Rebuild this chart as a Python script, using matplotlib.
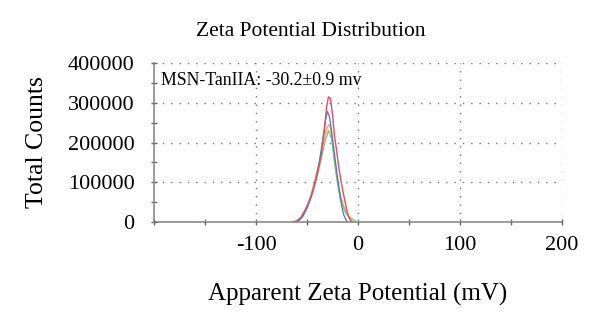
import matplotlib.pyplot as plt
import numpy as np
from matplotlib.ticker import MultipleLocator, FixedLocator

# Zeta potential distribution, four repeat runs
red_x = [-64, -60, -56, -52, -48, -44, -40, -36, -33, -31, -29, -27, -25, -23, -21, -19, -17, -15, -13, -11, -9, -7, -5]
red_y = [0, 3000, 12000, 30000, 52000, 80000, 120000, 170000, 230000, 285000, 315000, 310000, 270000, 215000,
         180000, 140000, 108000, 80000, 55000, 30000, 12000, 3000, 0]

blue_x = [-62, -58, -54, -50, -46, -42, -38, -35, -32, -30, -28, -26, -24, -22, -20, -18, -16, -14, -12, -10]
blue_y = [0, 4000, 15000, 35000, 62000, 100000, 150000, 200000, 255000, 278000, 265000, 230000, 190000, 150000,
          110000, 75000, 40000, 18000, 6000, 0]

green_x = [-60, -56, -52, -48, -44, -40, -36, -32, -29, -26, -24, -22, -20, -18, -15, -12, -8, -4, 0]
green_y = [0, 8000, 25000, 50000, 80000, 115000, 160000, 205000, 230000, 210000, 170000, 130000, 95000, 65000,
           40000, 22000, 12000, 5000, 0]

orange_x = [-62, -56, -50, -46, -42, -38, -34, -30, -28, -26, -24, -22, -20, -17, -14, -11, -8, -5]
orange_y = [0, 10000, 35000, 70000, 110000, 150000, 200000, 240000, 245000, 220000, 175000, 135000, 100000,
            65000, 40000, 20000, 8000, 0]

baseline_x = [-150, 150]
baseline_y = [0, 0]

x_ticks = [-100, 0, 100, 200]
x_labels = ['-100', '0', '100', '200']
y_ticks = [0, 100000, 200000, 300000, 400000]
y_labels = ['0', '100000', '200000', '300000', '400000']

plt.rcParams['font.family'] = ['Liberation Serif', 'DejaVu Serif']

fig = plt.figure(figsize=(6.0, 3.29), dpi=100)
ax = fig.add_axes([0.2567, 0.325, 0.68, 0.4835])

ax.plot([-200, 200], [0, 0], color='#8a8a8a', lw=1.2, zorder=1, clip_on=False)
ax.plot([-56, -4], [0, 0], color='#6e6e6e', lw=1.2, zorder=2)
ax.plot(baseline_x, baseline_y, color='#86a9d8', lw=1.2, zorder=2)
ax.plot(orange_x, orange_y, color='#f0a35a', lw=0.9, zorder=3)
ax.plot(green_x, green_y, color='#7cc47a', lw=0.9, zorder=4)
ax.plot(blue_x, blue_y, color='#4a78c8', lw=0.9, zorder=5)
ax.plot(red_x, red_y, color='#e0505a', lw=1.0, zorder=6)

ax.set_xlim(-200, 200)
ax.set_ylim(0, 400000)
ax.xaxis.set_major_locator(FixedLocator(x_ticks))
ax.xaxis.set_minor_locator(MultipleLocator(50))
ax.yaxis.set_major_locator(FixedLocator(y_ticks))
ax.yaxis.set_minor_locator(MultipleLocator(50000))
ax.set_xticklabels(x_labels)
ax.set_yticklabels(y_labels)

ax.grid(True, which='major', color='#777777', linestyle=(0, (1, 5)), lw=1.0)
for side in ['top', 'right', 'bottom']:
    ax.spines[side].set_visible(False)
ax.spines['left'].set_color('#8a8a8a')
ax.spines['left'].set_linewidth(1.2)

ax.tick_params(axis='both', which='both', direction='inout', color='#666666', labelsize=16, width=1)
ax.tick_params(axis='both', which='major', length=4)
ax.tick_params(axis='both', which='minor', length=4)
ax.tick_params(axis='x', pad=8)
ax.tick_params(axis='y', pad=12)

fig.text(311 / 600, 1 - 32 / 329, 'Zeta Potential Distribution', fontsize=15.5, ha='center', va='center')
ax.set_xlabel('Apparent Zeta Potential (mV)', fontsize=18, labelpad=20)
ax.set_ylabel('Total Counts', fontsize=18.5, labelpad=14)
ax.text(-193, 355000, 'MSN-TanIIA: -30.2±0.9 mv', fontsize=12.8, va='center', ha='left')

fig.savefig('out.png', dpi=100)
